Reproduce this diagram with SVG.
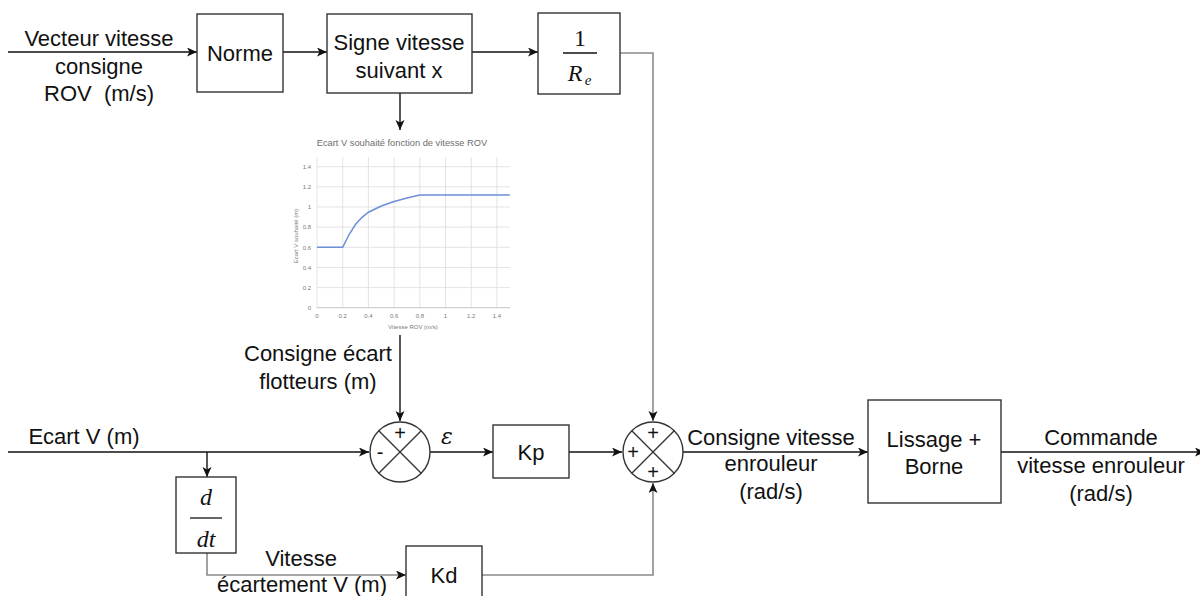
<svg xmlns="http://www.w3.org/2000/svg" width="1200" height="596" viewBox="0 0 1200 596">
<defs>
<style>
.box{fill:#fff;stroke:#333;stroke-width:1.4}
.t{font-family:"Liberation Sans",Arial,sans-serif;font-size:22px;fill:#111;text-anchor:middle;white-space:pre}
.m{font-family:"Liberation Serif","DejaVu Serif",serif;font-size:24px;fill:#111;text-anchor:middle;font-style:italic}
.c{fill:none;stroke:#111;stroke-width:1.4}
.g{fill:none;stroke:#8a8a8a;stroke-width:1.6}
.sum{fill:#fff;stroke:#333;stroke-width:1.4}
.x{stroke:#333;stroke-width:1.3}
.s{font-family:"Liberation Sans",Arial,sans-serif;font-size:20px;fill:#111;text-anchor:middle}
.grid{stroke:#dcdcdc;stroke-width:0.8}
.ct{font-family:"Liberation Sans",Arial,sans-serif;font-size:6px;fill:#7a7a7a}
</style>
<marker id="arr" markerWidth="12" markerHeight="10" refX="10" refY="4.5" orient="auto" markerUnits="userSpaceOnUse">
<path d="M0,0 L10,4.5 L0,9 L2.5,4.5 Z" fill="#111"/>
</marker>
</defs>
<g id="connectors">
<path class="c" d="M8,52 H197" marker-end="url(#arr)"/>
<path class="c" d="M283,52 H327" marker-end="url(#arr)"/>
<path class="c" d="M472,52 H538" marker-end="url(#arr)"/>
<path class="c" d="M400,93 V130" marker-end="url(#arr)"/>
<path class="g" d="M620,53 H653 V421" marker-end="url(#arr)"/>
<path class="c" d="M400,335 V421" marker-end="url(#arr)"/>
<path class="c" d="M8,452 H369" marker-end="url(#arr)"/>
<path class="c" d="M207,452 V477" marker-end="url(#arr)"/>
<path class="c" d="M430,452 H493" marker-end="url(#arr)"/>
<path class="c" d="M569,452 H622" marker-end="url(#arr)"/>
<path class="g" d="M207,553 V575 H406" marker-end="url(#arr)"/>
<path class="g" d="M482,575 H653 V483" marker-end="url(#arr)"/>
<path class="c" d="M683,452 H868" marker-end="url(#arr)"/>
<path class="c" d="M1001,452 H1205" marker-end="url(#arr)"/>
</g>
<g id="label-input">
<text class="t" x="99" y="46">Vecteur vitesse</text>
<text class="t" x="99" y="74">consigne</text>
<text class="t" x="99" y="101" xml:space="preserve">ROV  (m/s)</text>
</g>
<g id="norme">
<rect class="box" x="197" y="14" width="86" height="78"/>
<text class="t" x="240" y="61">Norme</text>
</g>
<g id="signe">
<rect class="box" x="327" y="14" width="145" height="79"/>
<text class="t" x="399" y="50">Signe vitesse</text>
<text class="t" x="399" y="78">suivant x</text>
</g>
<g id="inv-re">
<rect class="box" x="538" y="13" width="82" height="81"/>
<text class="m" x="580" y="46" style="font-style:normal">1</text>
<line x1="563" y1="53" x2="597" y2="53" stroke="#111" stroke-width="1.3"/>
<text class="m" x="575" y="81">R</text>
<text class="m" x="588" y="85" style="font-size:15px">e</text>
</g>
<g id="chart">
<rect x="284" y="131" width="232" height="204" fill="#fff"/>
<text x="402" y="146" style="font-family:'Liberation Sans',Arial,sans-serif;font-size:9.3px;fill:#6e6e6e;text-anchor:middle">Ecart V souhaité fonction de vitesse ROV</text>
<g class="grid">
<line x1="317" y1="166.7" x2="510" y2="166.7"/>
<line x1="317" y1="186.8" x2="510" y2="186.8"/>
<line x1="317" y1="207" x2="510" y2="207"/>
<line x1="317" y1="227.1" x2="510" y2="227.1"/>
<line x1="317" y1="247.3" x2="510" y2="247.3"/>
<line x1="317" y1="267.4" x2="510" y2="267.4"/>
<line x1="317" y1="287.6" x2="510" y2="287.6"/>
<line x1="342.7" y1="157" x2="342.7" y2="307.7"/>
<line x1="368.4" y1="157" x2="368.4" y2="307.7"/>
<line x1="394.1" y1="157" x2="394.1" y2="307.7"/>
<line x1="419.8" y1="157" x2="419.8" y2="307.7"/>
<line x1="445.5" y1="157" x2="445.5" y2="307.7"/>
<line x1="471.2" y1="157" x2="471.2" y2="307.7"/>
<line x1="496.9" y1="157" x2="496.9" y2="307.7"/>
<line x1="317" y1="157" x2="317" y2="307.7"/>
</g>
<line x1="317" y1="307.7" x2="510" y2="307.7" stroke="#bfbfbf" stroke-width="0.9"/>
<g class="ct" text-anchor="end">
<text x="311" y="169">1.4</text>
<text x="311" y="189">1.2</text>
<text x="311" y="209">1</text>
<text x="311" y="229">0.8</text>
<text x="311" y="250">0.6</text>
<text x="311" y="270">0.4</text>
<text x="311" y="290">0.2</text>
<text x="311" y="310">0</text>
</g>
<g class="ct" text-anchor="middle">
<text x="317" y="318">0</text>
<text x="342.7" y="318">0.2</text>
<text x="368.4" y="318">0.4</text>
<text x="394.1" y="318">0.6</text>
<text x="419.8" y="318">0.8</text>
<text x="445.5" y="318">1</text>
<text x="471.2" y="318">1.2</text>
<text x="496.9" y="318">1.4</text>
<text x="413" y="329">Vitesse ROV (m/s)</text>
<text x="0" y="0" transform="translate(298,236) rotate(-90)">Ecart V souhaité (m)</text>
</g>
<polyline fill="none" stroke="#6b8fd6" stroke-width="1.5" points="317,247.3 342.7,247.3 349.1,234.5 355.6,224.3 362,217.3 368.4,212.2 381.3,206 394.1,201.5 407,198 419.8,194.9 509.8,194.9"/>
</g>
<g id="label-consigne-ecart">
<text class="t" x="318" y="361">Consigne écart</text>
<text class="t" x="318" y="389">flotteurs (m)</text>
</g>
<g id="label-ecart-v">
<text class="t" x="84" y="444">Ecart V (m)</text>
</g>
<g id="sum1">
<circle class="sum" cx="400" cy="452" r="30"/>
<line class="x" x1="378.8" y1="430.8" x2="421.2" y2="473.2"/>
<line class="x" x1="421.2" y1="430.8" x2="378.8" y2="473.2"/>
<text class="s" x="400" y="440">+</text>
<text class="s" x="380" y="459">-</text>
</g>
<g id="label-epsilon">
<text x="447" y="444" style="font-family:'DejaVu Serif','Liberation Serif',serif;font-style:italic;font-size:22px;fill:#111;text-anchor:middle">ε</text>
</g>
<g id="kp">
<rect class="box" x="493" y="425" width="76" height="53"/>
<text class="t" x="531" y="460">Kp</text>
</g>
<g id="sum2">
<circle class="sum" cx="653" cy="452" r="30"/>
<line class="x" x1="631.8" y1="430.8" x2="674.2" y2="473.2"/>
<line class="x" x1="674.2" y1="430.8" x2="631.8" y2="473.2"/>
<text class="s" x="653" y="440">+</text>
<text class="s" x="633" y="459">+</text>
<text class="s" x="653" y="479">+</text>
</g>
<g id="ddt">
<rect class="box" x="176" y="477" width="60" height="76"/>
<text class="m" x="206" y="505">d</text>
<line x1="190" y1="518" x2="222" y2="518" stroke="#111" stroke-width="1.3"/>
<text class="m" x="206" y="547">dt</text>
</g>
<g id="label-vitesse-ecartement">
<text class="t" x="301" y="566">Vitesse</text>
<text class="t" x="302" y="592">écartement V (m)</text>
</g>
<g id="kd">
<rect class="box" x="406" y="546" width="76" height="58"/>
<text class="t" x="444" y="583">Kd</text>
</g>
<g id="label-consigne-vitesse">
<text class="t" x="771" y="445">Consigne vitesse</text>
<text class="t" x="771" y="471">enrouleur</text>
<text class="t" x="771" y="499">(rad/s)</text>
</g>
<g id="lissage">
<rect class="box" x="868" y="400" width="133" height="103"/>
<text class="t" x="934" y="447">Lissage +</text>
<text class="t" x="934" y="474">Borne</text>
</g>
<g id="label-commande">
<text class="t" x="1101" y="445">Commande</text>
<text class="t" x="1101" y="473">vitesse enrouleur</text>
<text class="t" x="1101" y="501">(rad/s)</text>
</g>
</svg>
